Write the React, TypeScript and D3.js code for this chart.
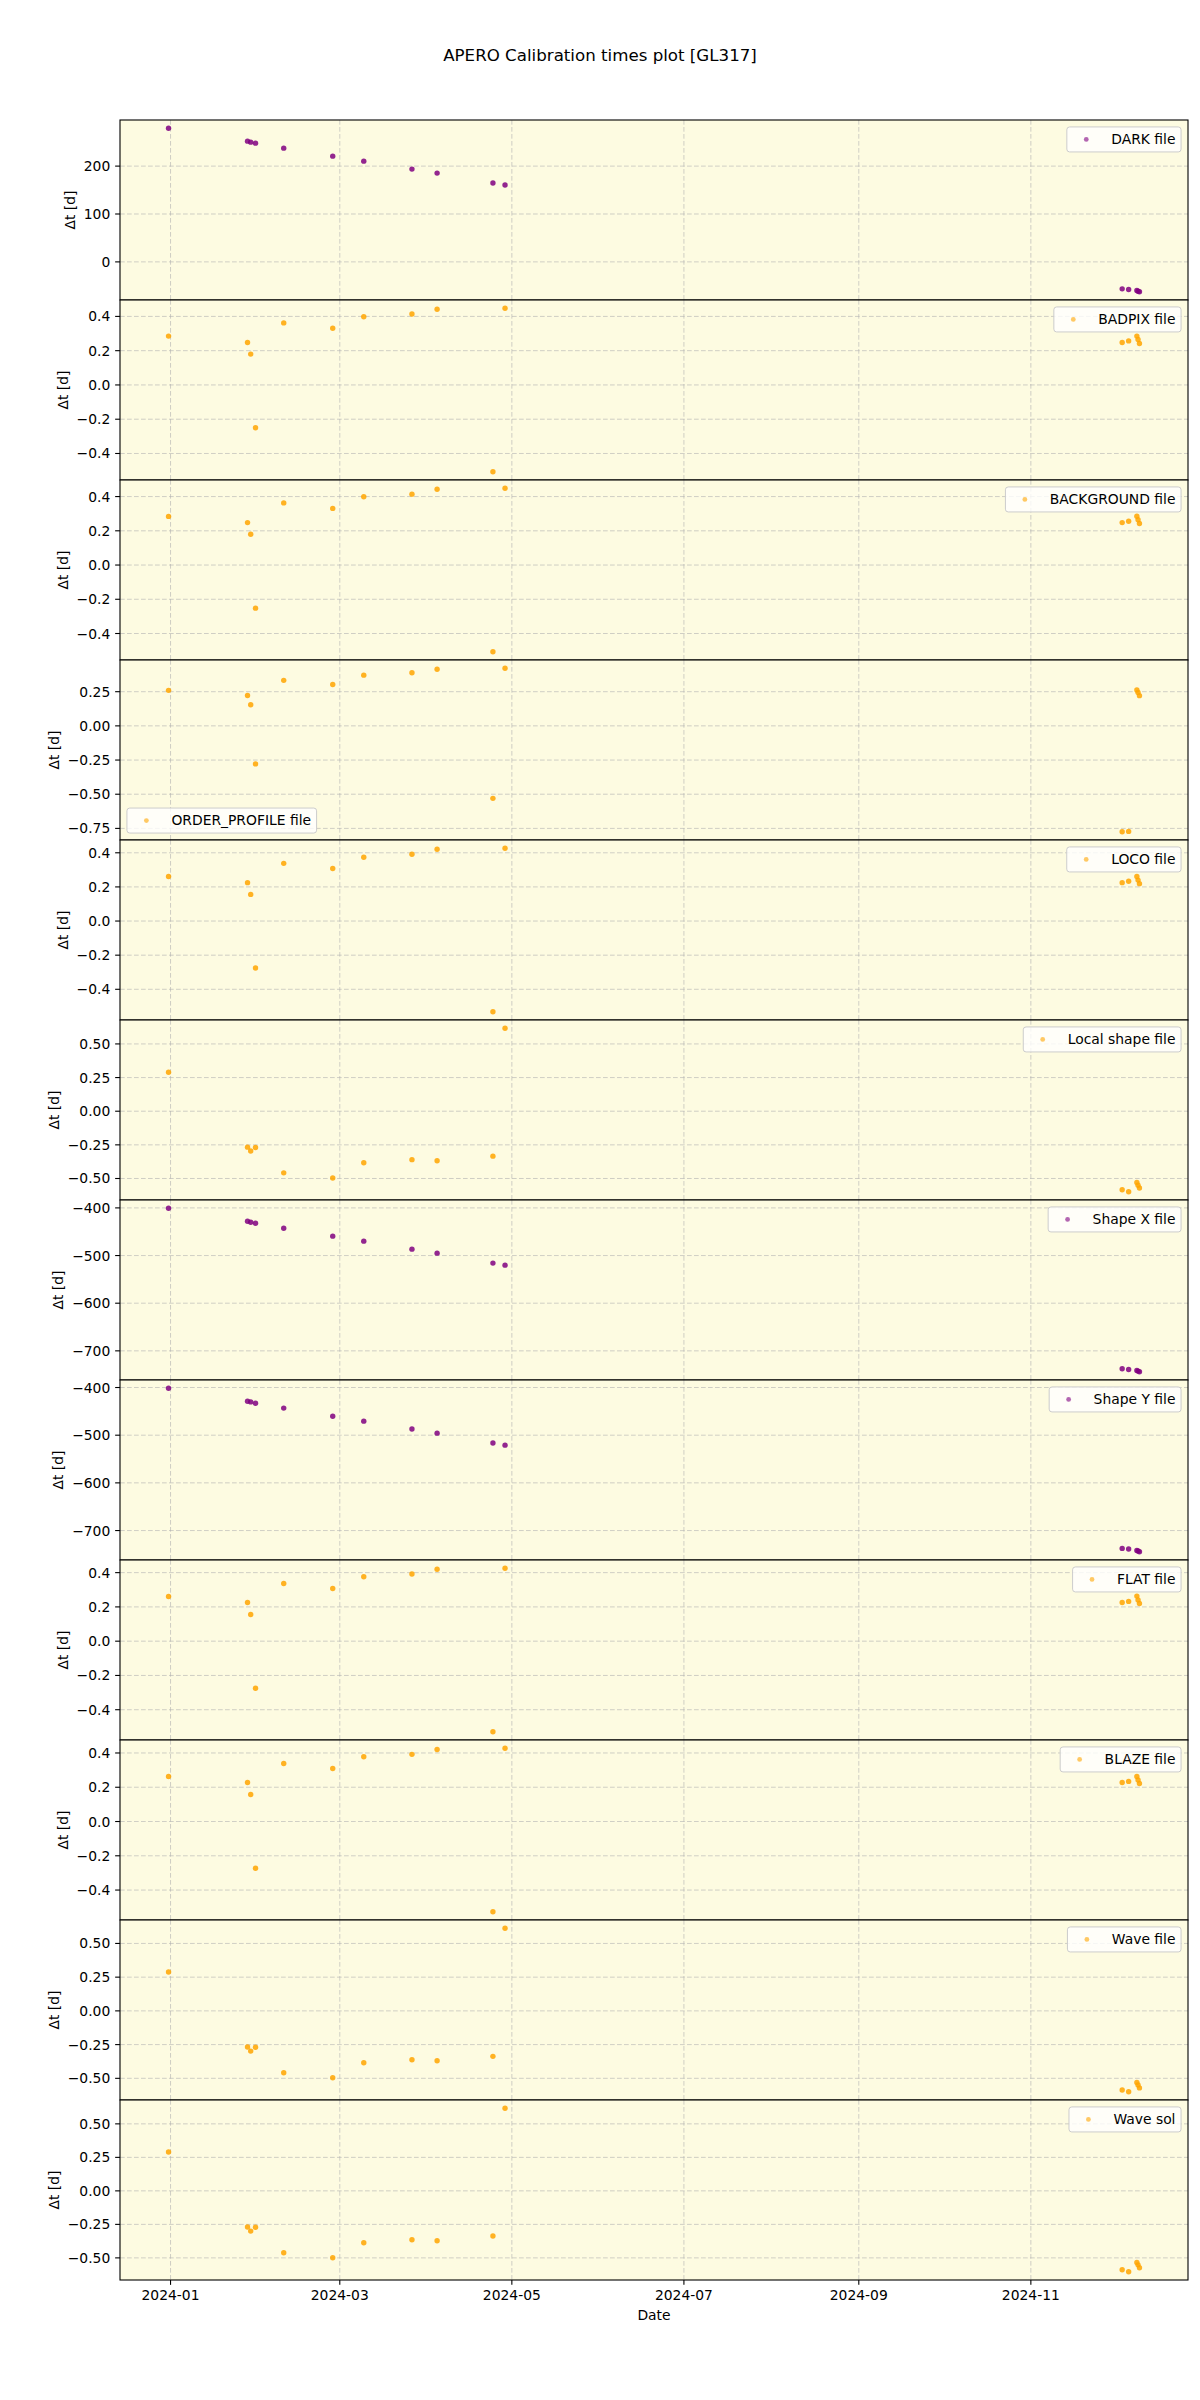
import React, { useEffect, useRef } from "react";
import * as d3 from "d3";

// ---------- data ----------
const dates = [
  "2023-12-31T07:00", "2024-01-28T07:00", "2024-01-29T10:00", "2024-01-31T03:00",
  "2024-02-10T03:00", "2024-02-27T12:00", "2024-03-09T12:00", "2024-03-26T14:00",
  "2024-04-04T12:00", "2024-04-24T07:00", "2024-04-28T14:00", "2024-12-03T09:00",
  "2024-12-05T16:00", "2024-12-08T14:00", "2024-12-09T00:00", "2024-12-09T12:00",
];

const darkFile = [279.2, 252.1, 250.0, 247.9, 237.5, 220.8, 210.4, 193.8, 185.4, 164.6, 160.4, -56.3, -57.7, -59.8, -61.2, -62.5];
const badpixFile = [0.285, 0.248, 0.180, -0.250, 0.362, 0.331, 0.398, 0.414, 0.442, -0.507, 0.448, 0.248, 0.257, 0.285, 0.265, 0.242];
const backgroundFile = [0.284, 0.248, 0.180, -0.252, 0.363, 0.331, 0.399, 0.414, 0.443, -0.507, 0.449, 0.248, 0.256, 0.285, 0.265, 0.243];
const orderProfileFile = [0.260, 0.222, 0.154, -0.278, 0.333, 0.303, 0.371, 0.389, 0.414, -0.530, 0.422, -0.775, -0.772, 0.262, 0.245, 0.221];
const locoFile = [0.261, 0.225, 0.156, -0.275, 0.338, 0.308, 0.374, 0.391, 0.421, -0.532, 0.427, 0.225, 0.233, 0.261, 0.240, 0.219];
const localShapeFile = [0.290, -0.267, -0.296, -0.270, -0.458, -0.496, -0.383, -0.360, -0.368, -0.334, 0.617, -0.584, -0.599, -0.530, -0.550, -0.571];
const shapeXFile = [-400.6, -427.9, -430.0, -432.1, -442.6, -459.3, -469.8, -486.6, -495.0, -515.9, -520.1, -737.7, -739.2, -741.3, -742.5, -744.0];
const shapeYFile = [-401.4, -428.8, -430.2, -433.1, -443.2, -460.4, -470.5, -487.0, -495.7, -516.5, -520.9, -737.4, -738.8, -741.7, -743.0, -744.6];
const flatFile = [0.261, 0.226, 0.156, -0.275, 0.337, 0.307, 0.376, 0.392, 0.420, -0.529, 0.426, 0.226, 0.232, 0.263, 0.241, 0.220];
const blazeFile = [0.263, 0.228, 0.158, -0.273, 0.339, 0.309, 0.378, 0.392, 0.420, -0.527, 0.428, 0.228, 0.234, 0.263, 0.242, 0.222];
const waveFile = [0.288, -0.268, -0.298, -0.270, -0.459, -0.496, -0.385, -0.362, -0.370, -0.337, 0.613, -0.586, -0.600, -0.531, -0.550, -0.571];
const waveSol = [0.290, -0.270, -0.300, -0.272, -0.462, -0.499, -0.387, -0.365, -0.372, -0.337, 0.617, -0.589, -0.604, -0.534, -0.552, -0.574];

const panelNames = [
  "DARK file", "BADPIX file", "BACKGROUND file", "ORDER_PROFILE file", "LOCO file",
  "Local shape file", "Shape X file", "Shape Y file", "FLAT file", "BLAZE file",
  "Wave file", "Wave sol",
];
const panelSeries = [
  darkFile, badpixFile, backgroundFile, orderProfileFile, locoFile, localShapeFile,
  shapeXFile, shapeYFile, flatFile, blazeFile, waveFile, waveSol,
];
const panelColors = [
  "purple", "orange", "orange", "orange", "orange", "orange",
  "purple", "purple", "orange", "orange", "orange", "orange",
];
const legendLoc = [
  "upper right", "upper right", "upper right", "lower left", "upper right", "upper right",
  "upper right", "upper right", "upper right", "upper right", "upper right", "upper right",
];

const ticksDark = [0, 100, 200];
const ticksTenths = [-0.4, -0.2, 0.0, 0.2, 0.4];
const ticksOrder = [-0.75, -0.5, -0.25, 0.0, 0.25];
const ticksQuarter = [-0.5, -0.25, 0.0, 0.25, 0.5];
const ticksShape = [-700, -600, -500, -400];
const panelTicks = [
  ticksDark, ticksTenths, ticksTenths, ticksOrder, ticksTenths, ticksQuarter,
  ticksShape, ticksShape, ticksTenths, ticksTenths, ticksQuarter, ticksQuarter,
];
const panelTickDecimals = [0, 1, 1, 2, 1, 2, 0, 0, 1, 1, 2, 2];

const xTickDates = ["2024-01-01", "2024-03-01", "2024-05-01", "2024-07-01", "2024-09-01", "2024-11-01"];
const xTickLabels = ["2024-01", "2024-03", "2024-05", "2024-07", "2024-09", "2024-11"];

const titleText = "APERO Calibration times plot [GL317]";
const yLabelText = "Δt [d]";
const xLabelText = "Date";

// ---------- layout ----------
const W = 1200;
const H = 2400;
const LEFT = 120;
const RIGHT = 1188;
const TOP = 120;
const BOTTOM = 2280;
const FONT = "DejaVu Sans, Verdana, sans-serif";
const FS = 13.89;
const BG = "#fdfbe1";

export default function App() {
  const ref = useRef<SVGSVGElement>(null);

  useEffect(() => {
    const svg = d3.select(ref.current);
    svg.selectAll("*").remove();
    svg.append("rect").attr("width", W).attr("height", H).attr("fill", "white");

    const parsed = dates.map((d) => new Date(d));
    const [xmin, xmax] = d3.extent(parsed) as [Date, Date];
    const span = +xmax - +xmin;
    const x = d3
      .scaleTime()
      .domain([new Date(+xmin - 0.05 * span), new Date(+xmax + 0.05 * span)])
      .range([LEFT, RIGHT]);

    const n = panelNames.length;
    const ph = (BOTTOM - TOP) / n;
    const minus = (s: string) => s.replace(/-/g, "\u2212");

    svg
      .append("text")
      .attr("x", 600)
      .attr("y", 61)
      .attr("text-anchor", "middle")
      .attr("font-family", FONT)
      .attr("font-size", 16.67)
      .text(titleText);

    panelSeries.forEach((vals, i) => {
      const top = TOP + i * ph;
      const bot = top + ph;
      const g = svg.append("g");
      const [ymin, ymax] = d3.extent(vals) as [number, number];
      const yr = ymax - ymin;
      const y = d3
        .scaleLinear()
        .domain([ymin - 0.05 * yr, ymax + 0.05 * yr])
        .range([bot, top]);

      g.append("rect")
        .attr("x", LEFT)
        .attr("y", top)
        .attr("width", RIGHT - LEFT)
        .attr("height", ph)
        .attr("fill", BG);

      // grid
      const gridStyle = (sel: any) =>
        sel
          .attr("stroke", "#b0b0b0")
          .attr("stroke-width", 1)
          .attr("stroke-opacity", 0.6)
          .attr("stroke-dasharray", "4.7,2.3");
      xTickDates.forEach((d) => {
        const xx = x(new Date(d));
        gridStyle(g.append("line").attr("x1", xx).attr("x2", xx).attr("y1", top).attr("y2", bot));
      });
      const ticks = panelTicks[i].filter((t) => {
        const yy = y(t);
        return yy >= top - 0.5 && yy <= bot + 0.5;
      });
      ticks.forEach((t) => {
        const yy = y(t);
        gridStyle(g.append("line").attr("x1", LEFT).attr("x2", RIGHT).attr("y1", yy).attr("y2", yy));
      });

      // points
      g.selectAll("circle.pt")
        .data(vals)
        .enter()
        .append("circle")
        .attr("class", "pt")
        .attr("cx", (_v, k) => x(parsed[k]))
        .attr("cy", (v) => y(v))
        .attr("r", 2.7)
        .attr("fill", panelColors[i])
        .attr("fill-opacity", 0.85);

      // frame
      g.append("rect")
        .attr("x", LEFT)
        .attr("y", top)
        .attr("width", RIGHT - LEFT)
        .attr("height", ph)
        .attr("fill", "none")
        .attr("stroke", "black")
        .attr("stroke-width", 1.1);

      // y ticks
      let minLabelX = LEFT;
      ticks.forEach((t) => {
        const yy = y(t);
        g.append("line")
          .attr("x1", LEFT)
          .attr("x2", LEFT - 4.86)
          .attr("y1", yy)
          .attr("y2", yy)
          .attr("stroke", "black")
          .attr("stroke-width", 1.1);
        const txt = g
          .append("text")
          .attr("x", LEFT - 9.72)
          .attr("y", yy)
          .attr("dy", "0.36em")
          .attr("text-anchor", "end")
          .attr("font-family", FONT)
          .attr("font-size", FS)
          .text(minus(t.toFixed(panelTickDecimals[i])));
        const node = txt.node() as SVGTextElement;
        const w = node.getComputedTextLength();
        minLabelX = Math.min(minLabelX, LEFT - 9.72 - w);
      });

      // y label
      const lx = minLabelX - 5.56 - 3.3;
      const ly = (top + bot) / 2;
      g.append("text")
        .attr("transform", `translate(${lx},${ly}) rotate(-90)`)
        .attr("text-anchor", "middle")
        .attr("font-family", FONT)
        .attr("font-size", FS)
        .text(yLabelText);

      // legend
      const lg = svg.append("g");
      const lt = lg
        .append("text")
        .attr("font-family", FONT)
        .attr("font-size", FS)
        .text(panelNames[i]);
      const tw = (lt.node() as SVGTextElement).getComputedTextLength();
      const pad = 0.4 * FS;
      const bw = pad + 2 * FS + 0.8 * FS + tw + pad;
      const bh = 2 * pad + FS;
      const axPad = 0.5 * FS;
      let bx: number;
      let by: number;
      if (legendLoc[i] === "lower left") {
        bx = LEFT + axPad;
        by = bot - axPad - bh;
      } else {
        bx = RIGHT - axPad - bw;
        by = top + axPad;
      }
      lg.insert("rect", "text")
        .attr("x", bx)
        .attr("y", by)
        .attr("width", bw)
        .attr("height", bh)
        .attr("rx", 2.8)
        .attr("fill", "white")
        .attr("fill-opacity", 0.8)
        .attr("stroke", "#cccccc")
        .attr("stroke-width", 1);
      lg.insert("circle", "text")
        .attr("cx", bx + pad + FS)
        .attr("cy", by + bh / 2)
        .attr("r", 2.4)
        .attr("fill", panelColors[i])
        .attr("fill-opacity", 0.6);
      lt.attr("x", bx + pad + 2.8 * FS).attr("y", by + bh / 2).attr("dy", "0.35em");
    });

    // x axis on bottom
    const xa = svg.append("g");
    xTickDates.forEach((d, k) => {
      const xx = x(new Date(d));
      xa.append("line")
        .attr("x1", xx)
        .attr("x2", xx)
        .attr("y1", BOTTOM)
        .attr("y2", BOTTOM + 4.86)
        .attr("stroke", "black")
        .attr("stroke-width", 1.1);
      xa.append("text")
        .attr("x", xx)
        .attr("y", 2300)
        .attr("text-anchor", "middle")
        .attr("font-family", FONT)
        .attr("font-size", FS)
        .text(xTickLabels[k]);
    });
    xa.append("text")
      .attr("x", (LEFT + RIGHT) / 2)
      .attr("y", 2319.5)
      .attr("text-anchor", "middle")
      .attr("font-family", FONT)
      .attr("font-size", FS)
      .text(xLabelText);
  }, []);

  return (
    <svg
      ref={ref}
      width={W}
      height={H}
      style={{ position: "absolute", left: 0, top: 0, display: "block" }}
    />
  );
}
